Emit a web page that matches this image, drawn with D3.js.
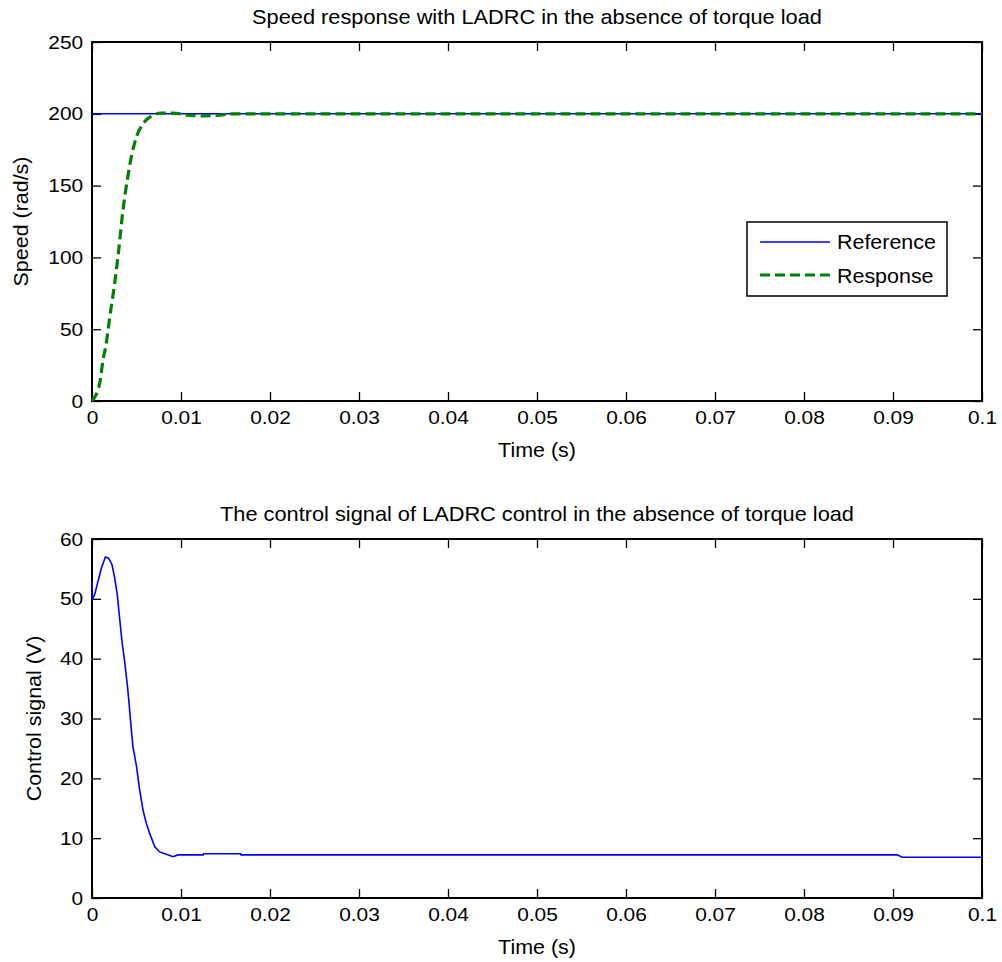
<!DOCTYPE html>
<html>
<head>
<meta charset="utf-8">
<script src="https://cdn.jsdelivr.net/npm/d3@7"></script>
<style>
  html, body { margin: 0; padding: 0; background: #fff; }
  svg text { font-family: "Liberation Sans", Arial, Helvetica, sans-serif; fill: #000; }
</style>
</head>
<body>
<svg id="chart" width="1002" height="962"></svg>
<script>
// ---------- Data ----------
const xTicks = [0, 0.01, 0.02, 0.03, 0.04, 0.05, 0.06, 0.07, 0.08, 0.09, 0.1];
const xTickLabels = ["0", "0.01", "0.02", "0.03", "0.04", "0.05", "0.06", "0.07", "0.08", "0.09", "0.1"];
const speedTicks = [0, 50, 100, 150, 200, 250];
const controlTicks = [0, 10, 20, 30, 40, 50, 60];

const referenceTime = [0, 0.1];
const referenceSpeed = [200, 200];

const responseTime = [0, 0.00087, 0.00124, 0.0016, 0.002, 0.00255, 0.003, 0.00348, 0.00397, 0.00442, 0.005, 0.00573, 0.00685, 0.0078, 0.0095, 0.0107, 0.0125, 0.0144, 0.0155, 0.1];
const responseSpeed = [0, 12.5, 28.5, 40, 58.7, 82, 105, 133, 154, 170, 184, 193, 199, 200.5, 200.3, 199, 198.6, 199, 200, 200];

const controlTime = [0, 0.00005, 0.0003, 0.00067, 0.00105, 0.0015, 0.00187, 0.00225, 0.00255, 0.00284, 0.0031, 0.00337, 0.00367, 0.00397, 0.00416, 0.00423, 0.00442, 0.0046, 0.005, 0.00535, 0.00573, 0.0061, 0.00648, 0.00704, 0.0076, 0.00835, 0.0091, 0.00966, 0.0125, 0.01255, 0.0167, 0.01675, 0.0905, 0.091, 0.1];
const controlSignal = [53, 50, 50.7, 52.9, 55.1, 57, 56.8, 55.7, 53.5, 50.7, 46.8, 42.9, 39.5, 35.6, 32.6, 31.4, 28.1, 25.3, 22, 18.1, 14.7, 12.5, 10.8, 8.6, 7.7, 7.3, 6.9, 7.2, 7.2, 7.4, 7.4, 7.2, 7.2, 6.8, 6.8];

const titles = ["Speed response with LADRC in the absence of torque load",
                "The control signal of LADRC control in the absence of torque load"];
const yLabels = ["Speed (rad/s)", "Control signal (V)"];
const xLabel = "Time (s)";

// ---------- Drawing ----------
const SX = 1.1; // horizontal stretch of glyphs
const svg = d3.select("#chart");
const left = 92, right = 982;

function addText(g, x, y, txt, size, anchor, rotate) {
  const tr = rotate ? `translate(${x},${y}) rotate(-90) scale(${SX},1)` : `translate(${x},${y}) scale(${SX},1)`;
  return g.append("text").attr("transform", tr).attr("text-anchor", anchor || "start")
    .style("font-size", size + "px").text(txt);
}

function drawAxes(g, x, y, yTicks, top, bottom, title, ylab, ylabX) {
  const tickLen = 9;
  g.append("rect").attr("x", left).attr("y", top).attr("width", right - left).attr("height", bottom - top)
    .attr("fill", "none").attr("stroke", "#000").attr("stroke-width", 2);
  const xb = g.append("g").attr("transform", `translate(0,${bottom})`)
    .call(d3.axisBottom(x).tickValues(xTicks).tickFormat((d, i) => xTickLabels[i]).tickSizeInner(-tickLen).tickSizeOuter(0).tickPadding(10));
  const xt = g.append("g").attr("transform", `translate(0,${top})`)
    .call(d3.axisTop(x).tickValues(xTicks).tickFormat("").tickSizeInner(-tickLen).tickSizeOuter(0));
  const yl = g.append("g").attr("transform", `translate(${left},0)`)
    .call(d3.axisLeft(y).tickValues(yTicks).tickFormat(d3.format("d")).tickSizeInner(-tickLen).tickSizeOuter(0).tickPadding(8));
  const yr = g.append("g").attr("transform", `translate(${right},0)`)
    .call(d3.axisRight(y).tickValues(yTicks).tickFormat("").tickSizeInner(-tickLen).tickSizeOuter(0));
  [xb, xt, yl, yr].forEach(a => {
    a.select(".domain").remove();
    a.selectAll(".tick line").attr("stroke", "#000").attr("stroke-width", 1.3);
    a.selectAll("text").style("font-size", "19px").style("font-family", "'Liberation Sans', Arial, sans-serif")
      .attr("transform", `scale(${SX},1)`);
  });
  xb.selectAll("text").attr("dy", "0.71em");
  addText(g, (left + right) / 2, top - 18, title, 19.8, "middle");
  addText(g, (left + right) / 2, bottom + 56, xLabel, 19.5, "middle");
  addText(g, ylabX, (top + bottom) / 2, ylab, 19.5, "middle", true);
}

// ---- Top plot ----
const top1 = 42, bottom1 = 401;
const x1 = d3.scaleLinear().domain([0, 0.1]).range([left, right]);
const y1 = d3.scaleLinear().domain([0, 250]).range([bottom1, top1]);
const g1 = svg.append("g");
drawAxes(g1, x1, y1, speedTicks, top1, bottom1, titles[0], yLabels[0], 28);

const refData = referenceTime.map((t, i) => [t, referenceSpeed[i]]);
const respData = responseTime.map((t, i) => [t, responseSpeed[i]]);
g1.append("path").datum(refData).attr("d", d3.line().x(d => x1(d[0])).y(d => y1(d[1])))
  .attr("fill", "none").attr("stroke", "#0000ff").attr("stroke-width", 1.6);
g1.append("path").datum(respData).attr("d", d3.line().x(d => x1(d[0])).y(d => y1(d[1])).curve(d3.curveMonotoneX))
  .attr("fill", "none").attr("stroke", "#008000").attr("stroke-width", 3.2).attr("stroke-dasharray", "10,5");

// legend
const lg = g1.append("g");
lg.append("rect").attr("x", 747).attr("y", 222).attr("width", 200).attr("height", 74)
  .attr("fill", "#fff").attr("stroke", "#000").attr("stroke-width", 1.5);
lg.append("line").attr("x1", 760).attr("x2", 830).attr("y1", 242).attr("y2", 242)
  .attr("stroke", "#0000ff").attr("stroke-width", 1.6);
lg.append("line").attr("x1", 760).attr("x2", 830).attr("y1", 275).attr("y2", 275)
  .attr("stroke", "#008000").attr("stroke-width", 3.2).attr("stroke-dasharray", "10,5");
addText(lg, 837, 249, "Reference", 19.5);
addText(lg, 837, 283, "Response", 19.5);

// ---- Bottom plot ----
const top2 = 539, bottom2 = 898;
const y2 = d3.scaleLinear().domain([0, 60]).range([bottom2, top2]);
const g2 = svg.append("g");
drawAxes(g2, x1, y2, controlTicks, top2, bottom2, titles[1], yLabels[1], 41);
const ctrlData = controlTime.map((t, i) => [t, controlSignal[i]]);
g2.append("path").datum(ctrlData).attr("d", d3.line().x(d => x1(d[0])).y(d => y2(d[1])))
  .attr("fill", "none").attr("stroke", "#0000ff").attr("stroke-width", 1.6);
</script>
</body>
</html>
